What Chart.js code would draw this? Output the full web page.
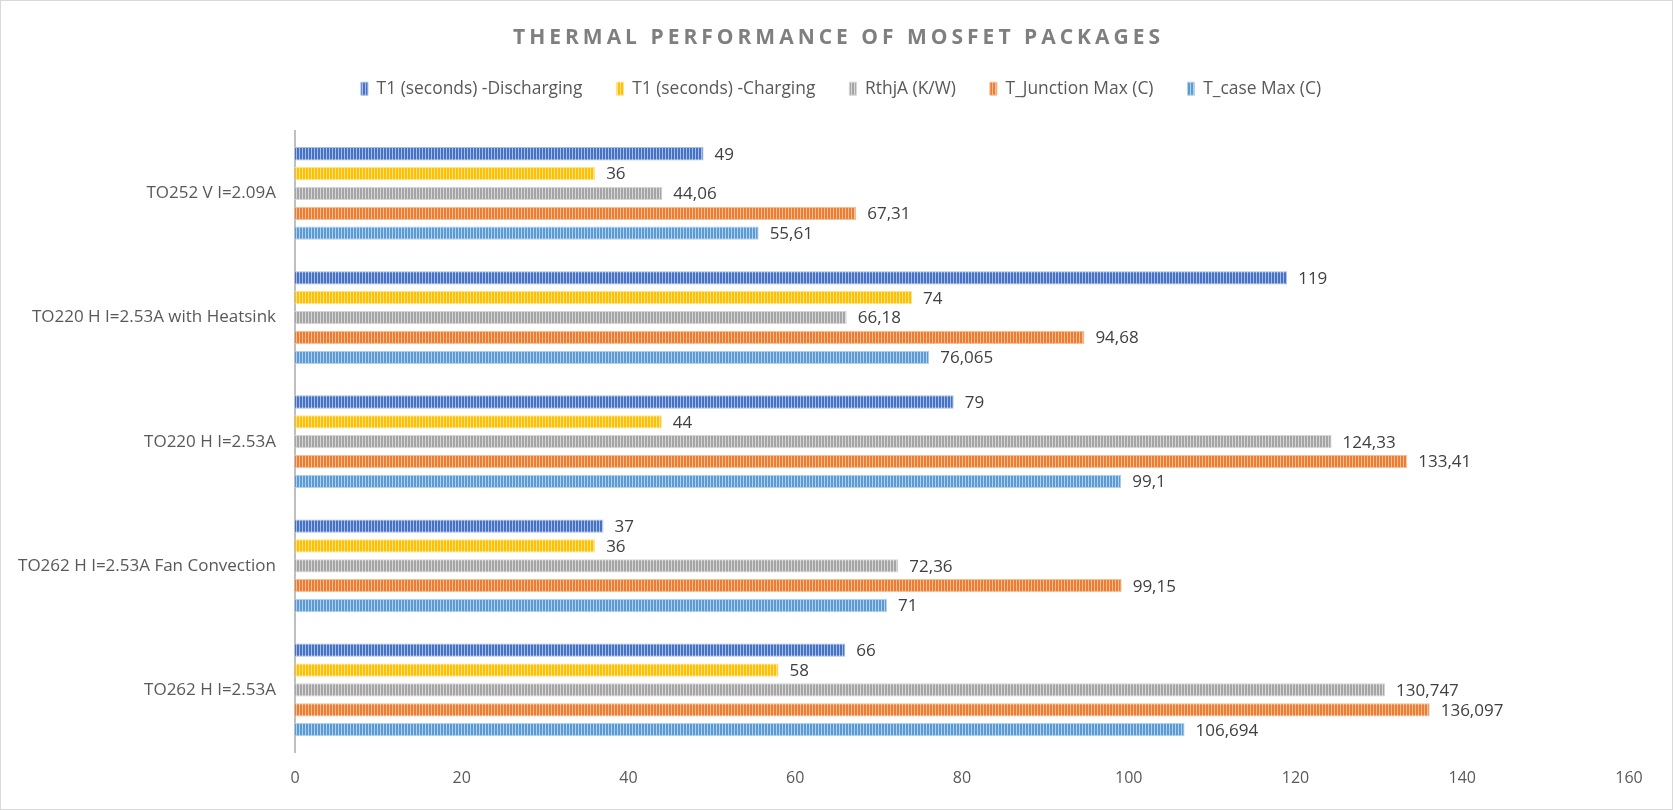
<!DOCTYPE html>
<html>
<head>
<meta charset="utf-8">
<script src="https://cdn.jsdelivr.net/npm/chart.js@4.4.1/dist/chart.umd.min.js"></script>
<style>
  html, body { margin: 0; padding: 0; background: #ffffff; }
  #wrap { width: 1673px; height: 810px; position: relative; }
</style>
</head>
<body>
<div id="wrap"><canvas id="c" width="1673" height="810"></canvas></div>
<script>
const chartTitle = "THERMAL PERFORMANCE OF MOSFET PACKAGES";
const categories = [
  "TO252 V I=2.09A",
  "TO220 H I=2.53A with Heatsink",
  "TO220 H I=2.53A",
  "TO262 H I=2.53A Fan Convection",
  "TO262 H I=2.53A"
];
const seriesNames = [
  "T1 (seconds) -Discharging",
  "T1 (seconds) -Charging",
  "RthjA (K/W)",
  "T_Junction Max (C)",
  "T_case Max (C)"
];
const t1Discharging = [49, 119, 79, 37, 66];
const t1Charging = [36, 74, 44, 36, 58];
const rthjA = [44.06, 66.18, 124.33, 72.36, 130.747];
const tJunctionMax = [67.31, 94.68, 133.41, 99.15, 136.097];
const tCaseMax = [55.61, 76.065, 99.1, 71, 106.694];
const xTicks = [0, 20, 40, 60, 80, 100, 120, 140, 160];

const baseColors = ["#4472C4", "#FFC000", "#A5A5A5", "#ED7D31", "#5B9BD5"];
const lightColors = ["#A9BDE4", "#FFE28A", "#D6D6D6", "#F6BE98", "#B3D0EC"];

function stripePattern(base, light) {
  const c = document.createElement('canvas');
  c.width = 3; c.height = 4;
  const g = c.getContext('2d');
  g.fillStyle = base; g.fillRect(0, 0, 3, 4);
  g.fillStyle = light; g.fillRect(2, 0, 1, 4);
  return g.createPattern(c, 'repeat');
}

const seriesData = [t1Discharging, t1Charging, rthjA, tJunctionMax, tCaseMax];
const datasets = seriesData.map((d, i) => ({
  label: seriesNames[i],
  data: d,
  backgroundColor: stripePattern(baseColors[i], lightColors[i]),
  borderColor: lightColors[i],
  borderWidth: 1,
  categoryPercentage: 0.80,
  barPercentage: 0.67
}));

const fmt = v => String(v).replace('.', ',');

const decor = {
  id: 'decor',
  beforeDraw(chart) {
    const ctx = chart.ctx;
    ctx.save();
    ctx.fillStyle = '#ffffff';
    ctx.fillRect(0, 0, chart.width, chart.height);
    ctx.strokeStyle = '#D9D9D9';
    ctx.lineWidth = 1;
    ctx.strokeRect(0.5, 0.5, chart.width - 1, chart.height - 1);
    ctx.fillStyle = '#7F7F7F';
    ctx.font = 'bold 21px "Open Sans"';
    ctx.letterSpacing = '4px';
    ctx.textAlign = 'center';
    ctx.textBaseline = 'middle';
    ctx.fillText(chartTitle, chart.width / 2 + 2, 38);
    ctx.restore();
  },
  afterDatasetsDraw(chart) {
    const ctx = chart.ctx;
    ctx.save();
    ctx.fillStyle = '#404040';
    ctx.font = '17px "Open Sans"';
    ctx.textAlign = 'left';
    ctx.textBaseline = 'middle';
    chart.data.datasets.forEach((ds, di) => {
      const meta = chart.getDatasetMeta(di);
      meta.data.forEach((el, i) => {
        ctx.fillText(fmt(ds.data[i]), el.x + 11, el.y + 1);
      });
    });
    ctx.restore();
  }
};

new Chart(document.getElementById('c'), {
  type: 'bar',
  data: { labels: categories, datasets },
  options: {
    indexAxis: 'y',
    responsive: false,
    animation: false,
    layout: { padding: { top: 46, left: 10, right: 1, bottom: 10 } },
    plugins: {
      legend: {
        position: 'top',
        weight: 1600,
        labels: {
          boxWidth: 7,
          boxHeight: 13,
          padding: 34,
          color: '#595959',
          font: { family: '"Open Sans"', size: 17.4 }
        }
      },
      subtitle: {
        display: true,
        text: '',
        position: 'top',
        padding: 0,
        font: { size: 24, lineHeight: 1 }
      },
      title: {
        display: true,
        text: '',
        position: 'right',
        fullSize: false,
        padding: 0,
        font: { size: 43, lineHeight: 1 }
      },
      tooltip: { enabled: false }
    },
    scales: {
      x: {
        min: 0, max: 160,
        afterBuildTicks: s => { s.ticks = xTicks.map(v => ({ value: v })); },
        afterFit: s => { s.height = 48; },
        grid: { display: false, drawTicks: false },
        border: { display: false },
        ticks: { color: '#595959', font: { family: '"Open Sans"', size: 16 }, padding: 17, maxRotation: 0 }
      },
      y: {
        afterFit: s => { s.width = 285; },
        grid: { display: false, drawTicks: false },
        border: { display: true, color: '#BFBFBF', width: 2 },
        ticks: { color: '#595959', font: { family: '"Open Sans"', size: 17 }, padding: 19 }
      }
    }
  },
  plugins: [decor]
});
</script>
</body>
</html>
